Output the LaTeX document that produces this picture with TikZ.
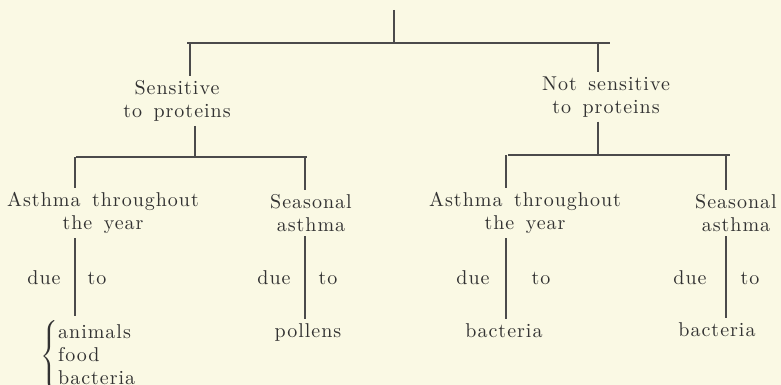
\documentclass[tikz,border=0pt]{standalone}
\usepackage{fontspec}
\newfontfamily\lspaced{lmroman10-regular}[Extension=.otf, LetterSpace=5, WordSpace=1.5]
\definecolor{paper}{RGB}{250,249,228}
\definecolor{ink}{RGB}{50,50,50}
\definecolor{inkline}{RGB}{75,75,75}

\begin{document}
\begin{tikzpicture}[
  x=0.5pt,
  y=-0.5pt,
  branch/.style={line width=0.8pt, draw=inkline},
  class/.style={align=center, inner sep=2pt, text=ink, font=\fontsize{10}{11.5}\selectfont\lspaced},
  cause/.style={anchor=base, inner sep=2pt, text=ink, font=\lspaced},
  leaf/.style={anchor=base, inner sep=2pt, text=ink, font=\lspaced},
]
\useasboundingbox[fill=paper] (0,0) rectangle (781,385);

% groups
\node[class] (sens) at (177,101) {Sensitive\\to proteins};
\node[class] (notsens) at (606,97) {Not sensitive\\to proteins};
\node[class] (yearA) at (103,213) {Asthma throughout\\the year};
\node[class] (seasA) at (311,213) {Seasonal\\asthma};
\node[class] (yearB) at (525,213) {Asthma throughout\\the year};
\node[class] (seasB) at (736,213) {Seasonal\\asthma};

% causes
\node[anchor=north west, inner sep=2pt, text=ink, font=\fontsize{10}{11.5}\selectfont\lspaced] (listA) at (36,316)
  {$\left\{\begin{tabular}{@{}l@{}}animals\\food\\bacteria\end{tabular}\right.$};
\node[leaf] (pollA) at (308,337) {pollens};
\node[leaf] (bactB) at (504,337) {bacteria};
\node[leaf] (bactC) at (717,336) {bacteria};

\node[cause] (dueA) at (44,284) {due};
\node[cause] (toA) at (97,284) {to};
\node[cause] (dueB) at (274,284) {due};
\node[cause] (toB) at (328,284) {to};
\node[cause] (dueC) at (473,284) {due};
\node[cause] (toC) at (541,284) {to};
\node[cause] (dueD) at (690,284) {due};
\node[cause] (toD) at (750,284) {to};

% junctions
\coordinate (top) at (394,10);
\coordinate (j0) at (394,43);
\coordinate (j0L) at (187,43);
\coordinate (j0R) at (610,43);
\coordinate (jA) at (190,43);
\coordinate (jB) at (598,43);
\coordinate (j1) at (195,157);
\coordinate (j1L) at (76,157);
\coordinate (j1R) at (307,157);
\coordinate (j2) at (598,155);
\coordinate (j2L) at (508,155);
\coordinate (j2R) at (730,155);
\coordinate (dA) at (75,157);
\coordinate (dB) at (305,157);
\coordinate (dC) at (506,155);
\coordinate (dD) at (726,155);

% tree
\draw[branch] (top) -- (j0);
\draw[branch] (j0L) -- (j0R);
\draw[branch] (jA) -- (jA |- sens.north);
\draw[branch] (jB) -- (jB |- notsens.north);

\draw[branch] (j1 |- sens.south) -- (j1);
\draw[branch] (j1L) -- (j1R);
\draw[branch] (dA) -- (dA |- yearA.north);
\draw[branch] (dB) -- (dB |- seasA.north);

\draw[branch] (j2 |- notsens.south) -- (j2);
\draw[branch] (j2L) -- (j2R);
\draw[branch] (dC) -- (dC |- yearB.north);
\draw[branch] (dD) -- (dD |- seasB.north);

% due to
\draw[branch] (dA |- yearA.south) -- (dA |- listA.north);
\draw[branch] (dB |- seasA.south) -- (dB |- pollA.north);
\draw[branch] (dC |- yearB.south) -- (dC |- bactB.north);
\draw[branch] (dD |- seasB.south) -- (dD |- bactC.north);

\end{tikzpicture}
\end{document}
